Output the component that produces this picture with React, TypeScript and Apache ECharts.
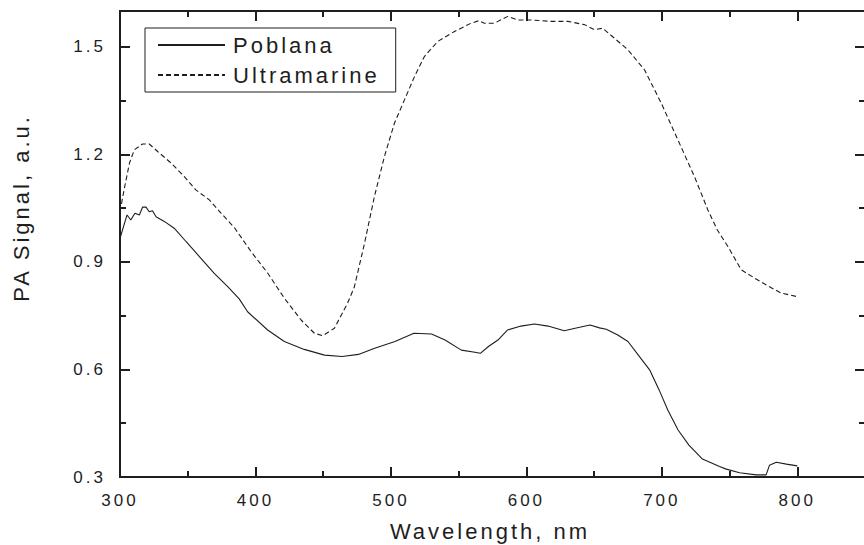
import React, { useEffect, useRef } from "react";
import * as echarts from "echarts";

// ---- data ----
const poblanaWavelength = [
  300, 305.2, 308, 311, 314.3, 316.7, 319.2, 321.6, 324, 326.6, 332.7, 340, 348.7, 358.6, 369.6, 379.5, 388,
  394.2, 409, 421.3, 436, 451, 464, 476, 488, 503, 517, 530, 540, 552, 562, 566, 572, 579, 586, 596, 606, 616,
  628, 636, 647, 654, 659, 667.5, 675, 683.5, 691, 698, 704.4, 712, 720, 730, 742.6, 747.6, 757.4, 769.7, 777,
  779.5, 784.5, 792, 800,
];
const poblanaSignal = [
  0.966, 1.031, 1.017, 1.036, 1.031, 1.053, 1.053, 1.04, 1.043, 1.026, 1.013, 0.994, 0.957, 0.915, 0.868, 0.831,
  0.797, 0.761, 0.71, 0.678, 0.656, 0.64, 0.636, 0.642, 0.659, 0.678, 0.701, 0.699, 0.682, 0.654, 0.648, 0.645,
  0.664, 0.682, 0.71, 0.721, 0.727, 0.721, 0.708, 0.715, 0.724, 0.716, 0.712, 0.696, 0.678, 0.636, 0.599, 0.543,
  0.487, 0.431, 0.389, 0.35, 0.329, 0.322, 0.312, 0.306, 0.306, 0.333, 0.341, 0.336, 0.331,
];
const ultramarineWavelength = [
  300, 303, 307, 310.6, 316.7, 321.6, 327.8, 337.7, 347.5, 356, 366, 374.6, 384.4, 396.7, 409, 421.3, 433.7,
  443.5, 449.6, 458.3, 468, 473, 480.4, 487.8, 495.2, 502.6, 510, 517.4, 524.7, 534.6, 546.9, 559.2, 565, 569,
  576.4, 586.3, 593.7, 603.5, 618.3, 630.6, 642.9, 650.3, 656.4, 665, 674.9, 687.2, 699.6, 711.8, 724.1, 734,
  741, 748.8, 758.6, 768.5, 778.3, 788.2, 800,
];
const ultramarineSignal = [
  1.04, 1.101, 1.176, 1.213, 1.229, 1.229, 1.208, 1.176, 1.138, 1.101, 1.073, 1.036, 0.996, 0.929, 0.869, 0.799,
  0.738, 0.701, 0.694, 0.715, 0.785, 0.83, 0.95, 1.082, 1.194, 1.287, 1.352, 1.417, 1.473, 1.515, 1.543, 1.566,
  1.573, 1.566, 1.566, 1.585, 1.575, 1.575, 1.571, 1.571, 1.562, 1.548, 1.552, 1.524, 1.492, 1.436, 1.343, 1.241,
  1.138, 1.045, 0.989, 0.943, 0.878, 0.855, 0.833, 0.813, 0.803,
];

const seriesNames = ["Poblana", "Ultramarine"];
const xTitle = "Wavelength, nm";
const yTitle = "PA Signal, a.u.";
const xMin = 300;
const xMax = 850;
const xMajor = 100;
const xMinor = 50;
const yMin = 0.3;
const yMax = 1.6;
const yMajor = 0.3;
const yMinor = 0.15;

const INK = "#1e1e1e";
const FONT = "'Liberation Sans', Arial, sans-serif";

function App() {
  const ref = useRef<HTMLDivElement>(null);

  useEffect(() => {
    if (!ref.current) return;
    const chart = echarts.init(ref.current, undefined, { renderer: "svg" });

    const axisLine = { show: true, lineStyle: { color: INK, width: 2 } };
    const mkX = (position: string, interval: number, len: number, labels: boolean) => ({
      type: "value",
      position,
      min: xMin,
      max: xMax,
      interval,
      axisLine: { ...axisLine, onZero: false },
      axisTick: { show: true, inside: true, length: len, lineStyle: { color: INK, width: 2 } },
      axisLabel: labels
        ? { show: true, fontSize: 17, color: INK, margin: 15, fontFamily: FONT, showMaxLabel: false }
        : { show: false },
      splitLine: { show: false },
    });
    const mkY = (position: string, interval: number, len: number, labels: boolean) => ({
      type: "value",
      position,
      min: yMin,
      max: yMax,
      interval,
      axisLine: { ...axisLine, onZero: false },
      axisTick: { show: true, inside: true, length: len, lineStyle: { color: INK, width: 2 } },
      axisLabel: labels
        ? {
            show: true,
            fontSize: 17,
            color: INK,
            margin: 14,
            fontFamily: FONT,
            showMaxLabel: false,
            formatter: (v: number) => v.toFixed(1),
          }
        : { show: false },
      splitLine: { show: false },
    });

    chart.setOption({
      animation: false,
      backgroundColor: "#ffffff",
      textStyle: { fontFamily: FONT },
      grid: { left: 120, top: 11, width: 745, height: 466, outerBoundsMode: "none" },
      xAxis: [
        mkX("bottom", xMajor, 10, true),
        mkX("bottom", xMinor, 6, false),
        mkX("top", xMajor, 10, false),
        mkX("top", xMinor, 6, false),
      ],
      yAxis: [
        mkY("left", yMajor, 10, true),
        mkY("left", yMinor, 6, false),
        mkY("right", yMajor, 10, false),
        mkY("right", yMinor, 6, false),
      ],
      legend: {
        show: true,
        orient: "vertical",
        left: 145,
        top: 28,
        itemWidth: 67,
        itemHeight: 14,
        itemGap: 8,
        padding: [6, 49, 6, 12],
        borderColor: INK,
        borderWidth: 1,
        selectedMode: false,
        itemStyle: { color: "rgba(0,0,0,0)", borderColor: "rgba(0,0,0,0)", borderWidth: 0, opacity: 0 },
        textStyle: { fontSize: 22, color: INK, fontFamily: FONT, padding: [0, 0, 0, 3] },
        data: seriesNames,
      },
      graphic: [
        {
          type: "text",
          x: 21,
          y: 208,
          rotation: Math.PI / 2,
          style: {
            text: yTitle,
            font: `22px ${FONT}`,
            fill: INK,
            align: "center",
            verticalAlign: "middle",
          },
        },
        {
          type: "text",
          x: 490,
          y: 531,
          style: {
            text: xTitle,
            font: `22px ${FONT}`,
            fill: INK,
            align: "center",
            verticalAlign: "middle",
          },
        },
      ],
      series: [
        {
          name: seriesNames[0],
          type: "line",
          xAxisIndex: 0,
          yAxisIndex: 0,
          symbol: "none",
          smooth: false,
          lineStyle: { color: INK, width: 1.1, type: "solid" },
          itemStyle: { color: INK },
          data: poblanaWavelength.map((w, i) => [w, poblanaSignal[i]]),
        },
        {
          name: seriesNames[1],
          type: "line",
          xAxisIndex: 0,
          yAxisIndex: 0,
          symbol: "none",
          smooth: false,
          lineStyle: { color: INK, width: 1.1, type: [5, 3] },
          itemStyle: { color: INK },
          data: ultramarineWavelength.map((w, i) => [w, ultramarineSignal[i]]),
        },
      ],
    });

    return () => chart.dispose();
  }, []);

  return (
    <>
      <style>{`#pa-chart text { letter-spacing: 3px; }`}</style>
      <div
        id="pa-chart"
        ref={ref}
        style={{ position: "fixed", left: 0, top: 0, width: 864, height: 545, background: "#fff" }}
      />
    </>
  );
}

export default App;
